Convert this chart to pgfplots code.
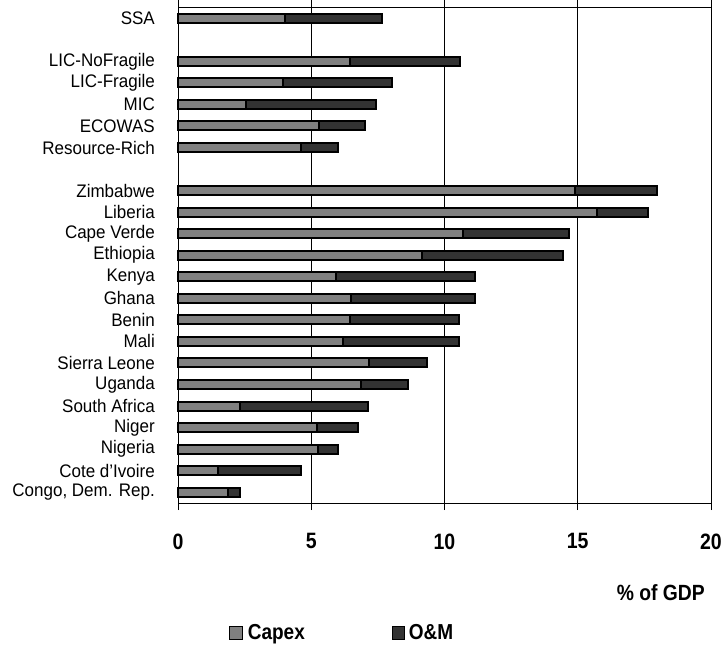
\documentclass[border=0pt]{standalone}
\usepackage{fontspec}
\setmainfont{Liberation Sans}
\usepackage{graphicx}
\usepackage{pgfplots}
\usepackage{pgfplotstable}
\pgfplotsset{compat=1.18}
\definecolor{capex}{HTML}{808080}
\definecolor{om}{HTML}{333333}
\newcommand\Lb[1]{\scalebox{1}[1.07]{#1}}
\newcommand\Bb[1]{\scalebox{1}[1.14]{#1}}

\pgfplotstableread{
y capex om
0 4.02 3.65
2 6.46 4.11
3 3.95 4.07
4 2.56 4.87
5 5.28 1.72
6 4.60 1.42
8 14.89 3.08
9 15.73 1.91
10 10.68 3.98
11 9.16 5.27
12 5.92 5.23
13 6.50 4.63
14 6.46 4.10
15 6.18 4.38
16 7.16 2.20
17 6.88 1.75
18 2.33 4.79
19 5.20 1.56
20 5.24 0.76
21 1.49 3.13
22 1.86 0.46
}\datatable

\begin{document}
\begin{tikzpicture}
\useasboundingbox (-178pt,-144pt) rectangle (545pt,503pt);
\begin{axis}[
  at={(0pt,0pt)}, anchor=south west,
  scale only axis, width=533pt, height=495.5pt,
  xbar stacked, bar width=9pt,
  xmin=0, xmax=20, ymin=-0.5, ymax=22.5, y dir=reverse,
  xtick={0,5,10,15,20}, xticklabels={\Bb{0},\Bb{5},\Bb{10},\Bb{15},\Bb{20}},
  xmajorgrids, grid style={black, line width=0.6pt},
  ytick={0,2,3,4,5,6,8,9,10,11,12,13,14,15,16,17,18,19,20,21,22},
  yticklabels={\Lb{SSA},\Lb{LIC-NoFragile},\Lb{LIC-Fragile},\Lb{MIC},\Lb{ECOWAS},\Lb{Resource-Rich},\Lb{Zimbabwe},\Lb{Liberia},\Lb{Cape Verde},\Lb{Ethiopia},\Lb{Kenya},\Lb{Ghana},\Lb{Benin},\Lb{Mali},\Lb{Sierra Leone},\Lb{Uganda},\Lb{South Africa},\Lb{Niger},\Lb{Nigeria},\Lb{Cote d'Ivoire},\Lb{Congo, Dem. Rep.}},
  tick align=outside, major tick length=7pt,
  ytick style={draw=none},
  xtick style={black, line width=0.8pt},
  axis line style={black, line width=0.8pt},
  yticklabel style={font=\fontsize{17}{17}\selectfont, inner sep=0pt, anchor=east, xshift=-16pt},
  xticklabel style={font=\bfseries\fontsize{19.5}{19.5}\selectfont, inner sep=0pt, anchor=north, yshift=-23.5pt},
  legend style={at={(0,0)}, anchor=west, xshift=48pt, yshift=-130pt, draw=none, fill=none,
    legend columns=2, font=\bfseries\fontsize{19}{19}\selectfont,
    /tikz/every even column/.append style={column sep=85pt}},
  legend image code/.code={\draw[#1, line width=0.6pt] (0pt,-6.25pt) rectangle (12.5pt,6.25pt);},
  clip=false,
]
\addplot[draw=black, line width=2pt, fill=capex] table[x=capex, y=y] {\datatable};
\addplot[draw=black, line width=2pt, fill=om] table[x=om, y=y] {\datatable};
\legend{\hspace{3.5pt}\Bb{Capex}, \hspace{2pt}\Bb{O\&M}}
\node[anchor=east, font=\bfseries\fontsize{19.3}{19.3}\selectfont, inner sep=0pt] at (rel axis cs:1,0) [xshift=-6pt, yshift=-90pt] {\Bb{\% of GDP}};
\end{axis}
\end{tikzpicture}
\end{document}
